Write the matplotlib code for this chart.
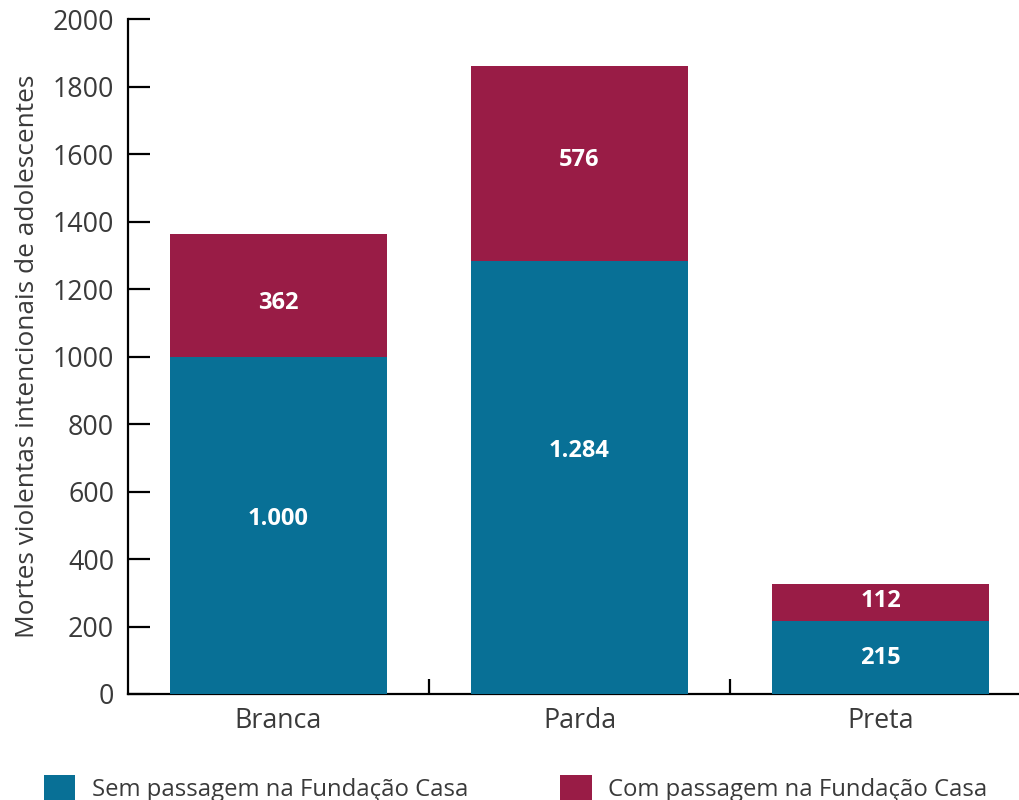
import matplotlib
matplotlib.use("Agg")
import matplotlib.pyplot as plt
from matplotlib.patches import Patch

plt.rcParams["font.family"] = ["Open Sans", "DejaVu Sans"]

categories = ["Branca", "Parda", "Preta"]
sem_passagem = [1000, 1284, 215]
com_passagem = [362, 576, 112]
y_ticks = [0, 200, 400, 600, 800, 1000, 1200, 1400, 1600, 1800, 2000]

# where each value label sits inside its segment (fraction of segment height)
sem_label_pos = [0.52, 0.56, 0.5]
com_label_pos = [0.44, 0.52, 0.54]

BLUE = "#087096"
RED = "#991c46"
TEXT = "#3a3a3a"


def fmt_pt(v):
    # Brazilian thousands separator
    return f"{v:,}".replace(",", ".")


fig = plt.figure(figsize=(10.19, 8), dpi=100)
ax = fig.add_axes([0.1256, 0.1325, 0.8744, 0.8437])

x = range(len(categories))
bars_sem = ax.bar(x, sem_passagem, width=0.72, color=BLUE, zorder=2)
bars_com = ax.bar(x, com_passagem, width=0.72, bottom=sem_passagem, color=RED, zorder=2)

for bars, vals, pos in [(bars_sem, sem_passagem, sem_label_pos),
                        (bars_com, com_passagem, com_label_pos)]:
    for rect, v, p in zip(bars, vals, pos):
        ax.text(rect.get_x() + rect.get_width() / 2, rect.get_y() + rect.get_height() * p,
                fmt_pt(v), ha="center", va="center", color="white",
                fontsize=17, fontweight="bold", zorder=3)

ax.set_xlim(-0.5, 2.46)
ax.set_ylim(0, 2000)
ax.set_yticks(y_ticks)
ax.set_yticklabels([str(t) for t in y_ticks])
ax.set_xticks(list(x))
ax.set_xticklabels(categories)
ax.set_xticks([0.5, 1.5], minor=True)

ax.tick_params(axis="y", direction="in", length=16, width=1.6, labelsize=19.3,
               labelcolor=TEXT, pad=10)
ax.tick_params(axis="x", which="major", length=0, labelsize=19.3, labelcolor=TEXT, pad=9)
ax.tick_params(axis="x", which="minor", direction="in", length=11, width=1.6)

for side in ["top", "right"]:
    ax.spines[side].set_visible(False)
for side in ["left", "bottom"]:
    ax.spines[side].set_linewidth(1.6)
    ax.spines[side].set_zorder(1)

ax.set_ylabel("Mortes violentas intencionais de adolescentes", fontsize=18.9,
              color=TEXT, labelpad=9)

handles = [Patch(facecolor=BLUE, label="Sem passagem na Fundação Casa"),
           Patch(facecolor=RED, label="Com passagem na Fundação Casa")]
fig.legend(handles=handles, loc="center left", bbox_to_anchor=(0.0435, 0.0144),
           ncol=2, frameon=False, fontsize=17.2, labelcolor=TEXT,
           handlelength=1.3, handleheight=1.3, handletextpad=0.7,
           columnspacing=3.85, borderaxespad=0, borderpad=0)

fig.savefig("out.png", dpi=100)
